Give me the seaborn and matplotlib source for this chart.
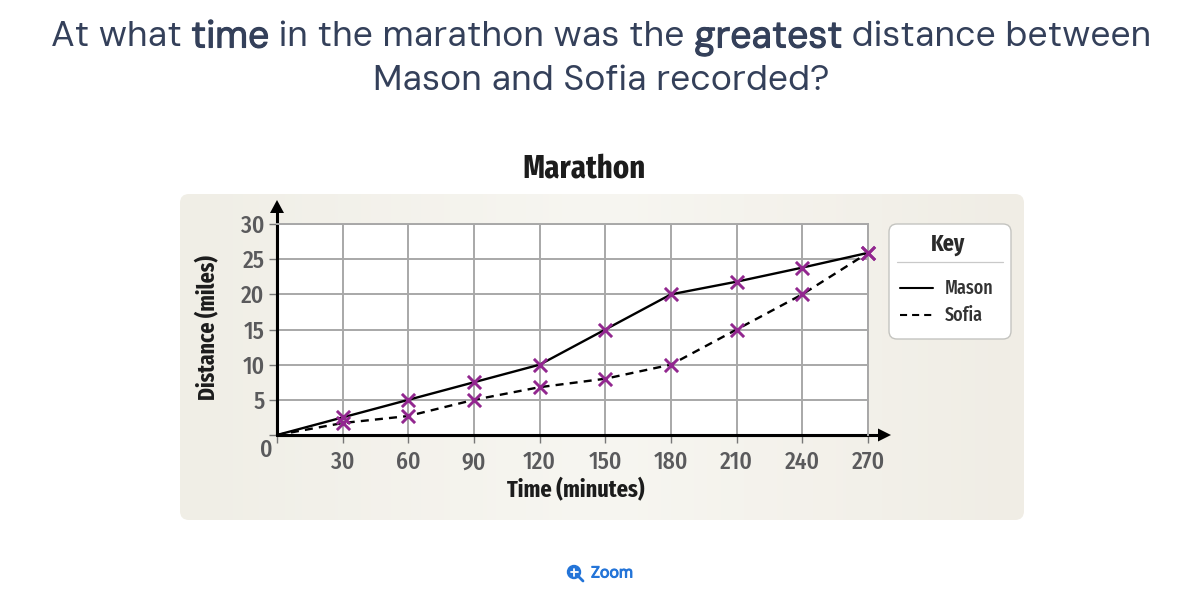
import matplotlib.pyplot as plt
from matplotlib import font_manager as fm
from matplotlib import patheffects as pe
from matplotlib.colors import LinearSegmentedColormap
from matplotlib.lines import Line2D
from matplotlib.patches import Circle, FancyBboxPatch, Polygon
import numpy as np
import pandas as pd
import seaborn as sns

# values
times = [0, 30, 60, 90, 120, 150, 180, 210, 240, 270]
mason = [0, 2.5, 5, 7.5, 10, 15, 20, 21.8, 23.8, 25.9]
sofia = [0, 1.7, 2.7, 5, 6.8, 8, 10, 15, 20, 25.9]
y_ticks = [0, 5, 10, 15, 20, 25, 30]
x_ticks = [30, 60, 90, 120, 150, 180, 210, 240, 270]

W, H = 1188, 608
DARK = '#34405a'
TICK = '#5a5a5c'
GRID = '#a8a8a8'


def pick(*names):
    # first installed family, DejaVu as the last resort
    have = {f.name for f in fm.fontManager.ttflist}
    for n in names:
        if n in have:
            return n
    return 'DejaVu Sans'


NARROW = pick('Fira Sans Condensed', 'Barlow Condensed', 'Sofia Sans Condensed')
XNARROW = pick('Fira Sans Extra Condensed', 'Fira Sans Condensed', 'Barlow Condensed')
HEAD = pick('DM Sans', 'Lato')

sns.set_theme(style='white')
plt.rcParams['font.family'] = [NARROW, 'DejaVu Sans']

fig = plt.figure(figsize=(W / 100, H / 100), dpi=100, facecolor='white')

# page layer, in pixels
bg = fig.add_axes([0, 0, 1, 1])
bg.set_xlim(0, W)
bg.set_ylim(H, 0)
bg.axis('off')


def heading(runs, y):
    # one centred line made of normal and heavier pieces (DM Sans only has one weight here)
    r = fig.canvas.get_renderer()
    pieces = []
    for s, heavy in runs:
        t = bg.text(0, y, s, fontsize=26.9 if heavy else 25.65, color=DARK, family=HEAD, va='center', ha='left')
        if heavy:
            t.set_path_effects([pe.withStroke(linewidth=0.8, foreground=DARK)])
        pieces.append((t, t.get_window_extent(r).width))
    x = 601 - sum(p[1] for p in pieces) / 2
    for t, width in pieces:
        t.set_x(x)
        x += width


heading([('At what ', False), ('time', True), (' in the marathon was the ', False),
         ('greatest', True), (' distance between', False)], 38)
heading([('Mason and Sofia recorded?', False)], 81)

# panel with a faint sheen
panel = FancyBboxPatch((180, 194), 844, 326, boxstyle='round,pad=0,rounding_size=9', fc='none', ec='none')
bg.add_patch(panel)
sheen = LinearSegmentedColormap.from_list('sheen', ['#f0eee6', '#f7f6f1', '#f0ede5'])
img = bg.imshow(np.linspace(0, 1, 256).reshape(1, -1), cmap=sheen, extent=(180, 1024, 520, 194), aspect='auto')
img.set_clip_path(panel)
bg.set_xlim(0, W)
bg.set_ylim(H, 0)

bold = dict(family=XNARROW, fontweight='bold', color='#1c1c1c', ha='center', va='center')
bg.text(584, 169, 'Marathon', fontsize=24, **bold)
bg.text(576, 490, 'Time (minutes)', fontsize=17.4, **bold)
bg.text(208, 328, 'Distance (miles)', fontsize=17, rotation=90, **bold)
bg.text(266, 450, '0', fontsize=17, color=TICK, ha='center', va='center', fontweight='medium')

# arrow heads on the two axes
bg.add_patch(Polygon([[270, 213], [284, 213], [277, 200]], fc='black', ec='none'))
bg.add_patch(Polygon([[878, 428.5], [878, 441.5], [891, 435]], fc='black', ec='none'))
bg.add_line(Line2D([277, 277], [435, 212], color='black', lw=2.2))
bg.add_line(Line2D([277, 880], [435, 435], color='black', lw=2.2))

# key
bg.add_patch(FancyBboxPatch((889, 224), 122, 115, boxstyle='round,pad=0,rounding_size=8', fc='white', ec='#c4c4c0',
                            lw=1))
bg.text(948, 244, 'Key', fontsize=17, family=XNARROW, fontweight='bold', color='#2b2b2b', ha='center', va='center')
bg.add_line(Line2D([897, 1003], [262, 262], color='#c9c9c9', lw=0.9))
bg.add_line(Line2D([900, 933], [288, 288], color='black', lw=1.5))
bg.add_line(Line2D([900, 933], [315, 315], color='black', lw=1.5, dashes=(3.4, 2.4)))
bg.text(945, 288, 'Mason', fontsize=14, family=XNARROW, fontweight='medium', color='#333333', ha='left', va='center')
bg.text(945, 315, 'Sofia', fontsize=14, family=XNARROW, fontweight='medium', color='#333333', ha='left', va='center')

# zoom link
BLUE = '#2374d8'
bg.add_patch(Circle((574, 572), 6.5, fc=BLUE, ec=BLUE))
bg.add_line(Line2D([578, 583], [576, 581], color=BLUE, lw=2))
bg.add_line(Line2D([570.5, 577.5], [572, 572], color='white', lw=1.3))
bg.add_line(Line2D([574, 574], [568.5, 575.5], color='white', lw=1.3))
zoom = bg.text(591, 573.5, 'Zoom', fontsize=11.5, color=BLUE, ha='left', va='center', family=HEAD)
zoom.set_path_effects([pe.withStroke(linewidth=0.7, foreground=BLUE)])

# chart
ax = fig.add_axes([277 / W, 1 - 435 / H, (868 - 277) / W, (435 - 224) / H], facecolor='white')
df = pd.DataFrame({'Time': times * 2, 'Distance': mason + sofia, 'Runner': ['Mason'] * 10 + ['Sofia'] * 10})
sns.lineplot(data=df, x='Time', y='Distance', style='Runner', style_order=['Mason', 'Sofia'], dashes=[(None, None), (3.4, 2.6)],
             color='black', linewidth=1.7, legend=False, ax=ax, zorder=3, clip_on=False)
sns.scatterplot(data=df[df['Time'] > 0], x='Time', y='Distance', marker='x', color='#92278f', s=90, linewidth=2.1,
                legend=False, ax=ax, zorder=4, clip_on=False)

ax.set_xlim(0, 270)
ax.set_ylim(0, 30)
ax.set_xticks([0] + x_ticks)
ax.set_xticklabels([''] + [str(v) for v in x_ticks])
ax.set_yticks(y_ticks)
ax.set_yticklabels([''] + [str(v) for v in y_ticks[1:]])
ax.grid(True, color=GRID, linewidth=1.4)
ax.set_axisbelow(True)
ax.set_xlabel('')
ax.set_ylabel('')
ax.tick_params(axis='both', length=5.5, width=1, color='#777777', labelcolor=TICK, labelsize=17, pad=3.5,
               bottom=True, left=True)
ax.tick_params(axis='x', pad=6)
for lab in ax.get_xticklabels() + ax.get_yticklabels():
    lab.set_fontweight('medium')
for side in ax.spines:
    ax.spines[side].set_visible(side in ('top', 'right'))
    ax.spines[side].set_color(GRID)
    ax.spines[side].set_linewidth(1.4)

# axis lines go over the grid
ax.axhline(0, color='black', lw=2.2, zorder=2.5, clip_on=False)
ax.axvline(0, color='black', lw=2.2, zorder=2.5, clip_on=False)

fig.savefig('out.png', dpi=100)
